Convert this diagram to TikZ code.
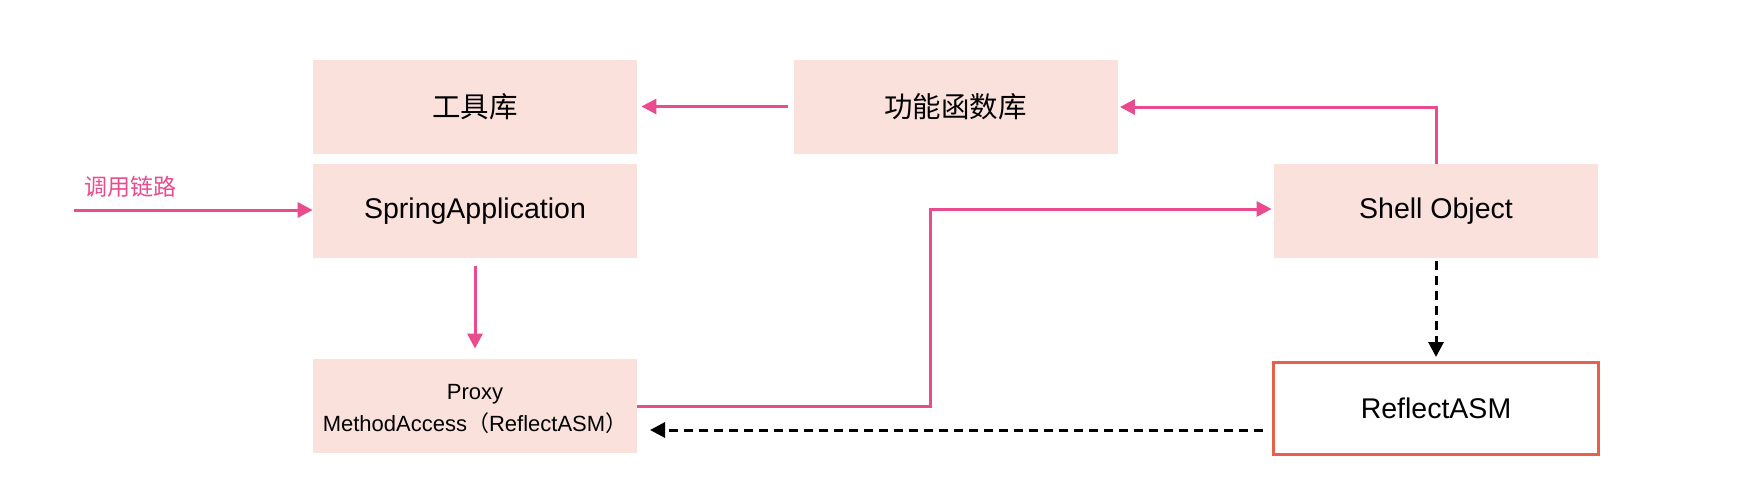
\documentclass[tikz,border=0pt]{standalone}
\usepackage{fontspec}
\setmainfont{Liberation Sans}
\newfontfamily\cjk{Noto Sans CJK SC}
\usetikzlibrary{arrows.meta,positioning}
\definecolor{boxfill}{HTML}{FAE1DC}
\definecolor{pinkline}{HTML}{EA4B8E}
\definecolor{redborder}{HTML}{E9604A}
\begin{document}
\begin{tikzpicture}[x=0.5pt,y=-0.5pt,
  box/.style={fill=boxfill, draw=none, minimum width=162pt, minimum height=47pt, inner sep=0pt, font=\fontsize{14.25}{17}\selectfont, align=center},
  redbox/.style={draw=redborder, line width=1.5pt, fill=white, minimum width=162.5pt, minimum height=46pt, inner sep=0pt, font=\fontsize{14.25}{17}\selectfont},
  pinkarrow/.style={draw=pinkline, line width=1.5pt, -{Triangle[length=7.5pt,width=7.5pt]}},
  dasharrow/.style={draw=black, line width=1.5pt, dash pattern=on 4.5pt off 3pt, -{Triangle[length=7.5pt,width=7.5pt]}}]
\useasboundingbox (0,0) rectangle (1748,498);
\fill[white] (0,0) rectangle (1748,498);

\node[box] (tool) at (475,106.5) {\cjk 工具库};
\node[box] (func) at (955.5,106.5) {\cjk 功能函数库};
\node[box] (spring) at (475,211) {SpringApplication};
\node[box] (shell) at (1436,211) {Shell Object};
\node[box, font=\fontsize{11}{16}\selectfont, text depth=0pt] (proxy) at (475,406) {\raisebox{-1.8pt}{Proxy}\\\raisebox{-1.8pt}{MethodAccess{\cjk （}ReflectASM{\cjk ）}}};
\node[redbox] (refl) at (1436,408.5) {ReflectASM};

\node[text=pinkline, font=\cjk\fontsize{11.5}{14}\selectfont, inner sep=0pt] (lbl) at (130,187) {调用链路};

\coordinate (in) at (74,210);
\draw[pinkarrow] (in) -- (spring.west |- in);

\draw[pinkarrow] ([xshift=-2.5pt]func.west) -- ([xshift=2pt]tool.east);
\coordinate (bend1) at (1436,107);
\draw[pinkarrow] (shell.north) -- (bend1) -- ([xshift=1pt]func.east |- bend1);

\draw[pinkarrow] ([yshift=-4pt]spring.south) -- ([yshift=5pt]proxy.north);

\coordinate (pa) at (638,406);
\coordinate (pb) at (930,406);
\coordinate (pc) at (930,209);
\draw[pinkarrow] (proxy.east |- pa) -- (pb) -- (pc) -- ([xshift=-1pt]shell.west |- pc);

\draw[dasharrow] ([yshift=-1.5pt]shell.south) -- ([yshift=2pt]refl.north);

\coordinate (da) at (1263,430);
\coordinate (db) at (650,430);
\draw[dasharrow] (da) -- (db);
\end{tikzpicture}
\end{document}
